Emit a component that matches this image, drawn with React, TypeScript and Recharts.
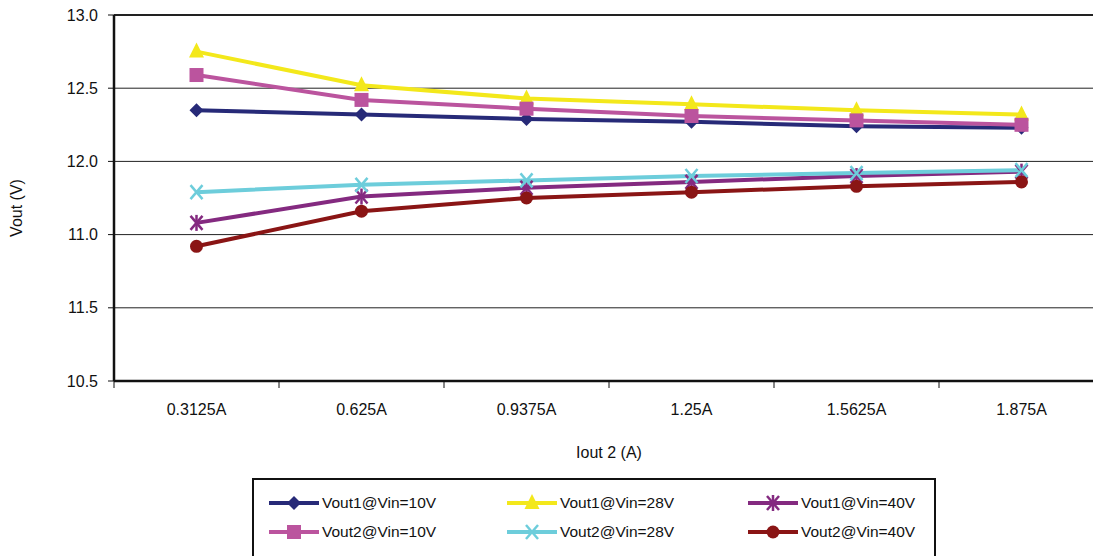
import React from "react";
import {
  LineChart,
  Line,
  XAxis,
  YAxis,
  CartesianGrid,
  ReferenceLine,
} from "recharts";

const categories = ["0.3125A", "0.625A", "0.9375A", "1.25A", "1.5625A", "1.875A"];

const vout1Vin10 = [12.35, 12.32, 12.29, 12.27, 12.24, 12.23];
const vout1Vin28 = [12.75, 12.52, 12.43, 12.39, 12.35, 12.32];
const vout1Vin40 = [11.58, 11.76, 11.82, 11.86, 11.9, 11.93];
const vout2Vin10 = [12.59, 12.42, 12.36, 12.31, 12.28, 12.25];
const vout2Vin28 = [11.79, 11.84, 11.87, 11.9, 11.92, 11.94];
const vout2Vin40 = [11.42, 11.66, 11.75, 11.79, 11.83, 11.86];

// tick labels exactly as printed on the original (11.0 / 11.5 swapped)
const yTicks = [10.5, 11, 11.5, 12, 12.5, 13];
const yTickLabels = ["10.5", "11.5", "11.0", "12.0", "12.5", "13.0"];

const FONT = "'Liberation Sans', Arial, Helvetica, sans-serif";

type Shape = "diamond" | "square" | "triangle" | "cross" | "star" | "circle";

const series: { key: string; name: string; color: string; shape: Shape; values: number[] }[] = [
  { key: "v1_10", name: "Vout1@Vin=10V", color: "#272a78", shape: "diamond", values: vout1Vin10 },
  { key: "v1_28", name: "Vout1@Vin=28V", color: "#f3e81b", shape: "triangle", values: vout1Vin28 },
  { key: "v1_40", name: "Vout1@Vin=40V", color: "#842a80", shape: "star", values: vout1Vin40 },
  { key: "v2_10", name: "Vout2@Vin=10V", color: "#bb549e", shape: "square", values: vout2Vin10 },
  { key: "v2_28", name: "Vout2@Vin=28V", color: "#6dcddb", shape: "cross", values: vout2Vin28 },
  { key: "v2_40", name: "Vout2@Vin=40V", color: "#8a1515", shape: "circle", values: vout2Vin40 },
];

const data = categories.map((name, i) => {
  const row: Record<string, number | string> = { pos: i + 0.5, name };
  series.forEach((s) => {
    row[s.key] = s.values[i];
  });
  return row;
});

// boundaries get a tick mark, centres get the category label
const xTicks: number[] = [];
categories.forEach((_, i) => {
  xTicks.push(i, i + 0.5);
});
xTicks.push(categories.length);

function Marker({ cx, cy, shape, color }: { cx: number; cy: number; shape: Shape; color: string }) {
  if (cx == null || cy == null) return null;
  switch (shape) {
    case "diamond":
      return <polygon points={`${cx},${cy - 7} ${cx + 7},${cy} ${cx},${cy + 7} ${cx - 7},${cy}`} fill={color} />;
    case "square":
      return <rect x={cx - 7} y={cy - 7} width={14} height={14} fill={color} />;
    case "triangle":
      return <polygon points={`${cx},${cy - 9} ${cx + 7.5},${cy + 6} ${cx - 7.5},${cy + 6}`} fill={color} />;
    case "cross":
      return (
        <g stroke={color} strokeWidth={2.5}>
          <line x1={cx - 6} y1={cy - 7} x2={cx + 6} y2={cy + 7} />
          <line x1={cx - 6} y1={cy + 7} x2={cx + 6} y2={cy - 7} />
        </g>
      );
    case "star":
      return (
        <g stroke={color} strokeWidth={2.5}>
          <line x1={cx - 6} y1={cy - 7} x2={cx + 6} y2={cy + 7} />
          <line x1={cx - 6} y1={cy + 7} x2={cx + 6} y2={cy - 7} />
          <line x1={cx} y1={cy - 8} x2={cx} y2={cy + 8} />
        </g>
      );
    default:
      return <circle cx={cx} cy={cy} r={6.5} fill={color} />;
  }
}

const XTick = (props: any) => {
  const { x, y, payload } = props;
  const v = payload.value as number;
  if (Number.isInteger(v)) {
    return <line x1={x} x2={x} y1={y} y2={y + 7} stroke="#111" strokeWidth={1} />;
  }
  return (
    <text x={x} y={y + 34} textAnchor="middle" fill="#111" fontSize={16} fontFamily={FONT}>
      {categories[Math.floor(v)]}
    </text>
  );
};

const legendRows = [series.filter((s) => s.key.startsWith("v1")), series.filter((s) => s.key.startsWith("v2"))];
const legendCols = [267, 505, 746];

function ChartLegend() {
  return (
    <div
      style={{
        position: "absolute",
        left: 252,
        top: 478,
        width: 684,
        height: 100,
        border: "2px solid #111",
        boxSizing: "border-box",
        background: "#fff",
      }}
    >
      {legendRows.map((row, r) =>
        row.map((s, c) => (
          <div
            key={s.key}
            style={{
              position: "absolute",
              left: legendCols[c] - 252,
              top: 13 + r * 29,
              display: "flex",
              alignItems: "center",
              fontFamily: FONT,
              fontSize: 15.5,
              color: "#111",
              whiteSpace: "nowrap",
            }}
          >
            <svg width={50} height={20} style={{ marginRight: 3 }}>
              <line x1={0} x2={50} y1={10} y2={10} stroke={s.color} strokeWidth={4} />
              <Marker cx={25} cy={10} shape={s.shape} color={s.color} />
            </svg>
            {s.name}
          </div>
        ))
      )}
    </div>
  );
}

export default function App() {
  return (
    <div
      style={{
        position: "absolute",
        left: 0,
        top: 0,
        width: 1093,
        height: 556,
        overflow: "hidden",
        background: "#fff",
      }}
    >
      <LineChart
        width={1114}
        height={556}
        data={data}
        margin={{ top: 15, right: 10, bottom: 75, left: 0 }}
      >
        <CartesianGrid vertical={false} stroke="#222" strokeWidth={1} />
        <ReferenceLine y={13} stroke="#222" strokeWidth={2} />
        <XAxis
          dataKey="pos"
          type="number"
          domain={[0, categories.length]}
          ticks={xTicks}
          interval={0}
          height={100}
          tickLine={false}
          tickSize={0}
          tickMargin={0}
          tick={<XTick />}
          axisLine={{ stroke: "#111", strokeWidth: 2.5 }}
          label={{
            content: (p: any) => (
              <text
                x={p.viewBox.x + p.viewBox.width / 2}
                y={p.viewBox.y + 77}
                textAnchor="middle"
                fill="#111"
                fontSize={16}
                fontFamily={FONT}
              >
                Iout 2 (A)
              </text>
            ),
          }}
        />
        <YAxis
          type="number"
          domain={[10.5, 13]}
          ticks={yTicks}
          interval={0}
          width={114}
          tickSize={6}
          tickMargin={10}
          tickLine={{ stroke: "#111" }}
          axisLine={{ stroke: "#111", strokeWidth: 2.5 }}
          tick={{ fill: "#111", fontSize: 16, fontFamily: FONT }}
          tickFormatter={(v: number) => yTickLabels[yTicks.indexOf(v)]}
          label={{
            content: (p: any) => {
              const cy = p.viewBox.y + p.viewBox.height / 2 + 10;
              return (
                <text
                  x={16}
                  y={cy}
                  transform={`rotate(-90, 16, ${cy})`}
                  textAnchor="middle"
                  dominantBaseline="central"
                  fill="#111"
                  fontSize={16}
                  fontFamily={FONT}
                >
                  Vout (V)
                </text>
              );
            },
          }}
        />
        {series.map((s) => (
          <Line
            key={s.key}
            dataKey={s.key}
            name={s.name}
            type="linear"
            stroke={s.color}
            strokeWidth={4}
            isAnimationActive={false}
            dot={(p: any) => <Marker key={`${s.key}-${p.index}`} cx={p.cx} cy={p.cy} shape={s.shape} color={s.color} />}
            activeDot={false}
          />
        ))}
      </LineChart>
      <ChartLegend />
    </div>
  );
}
